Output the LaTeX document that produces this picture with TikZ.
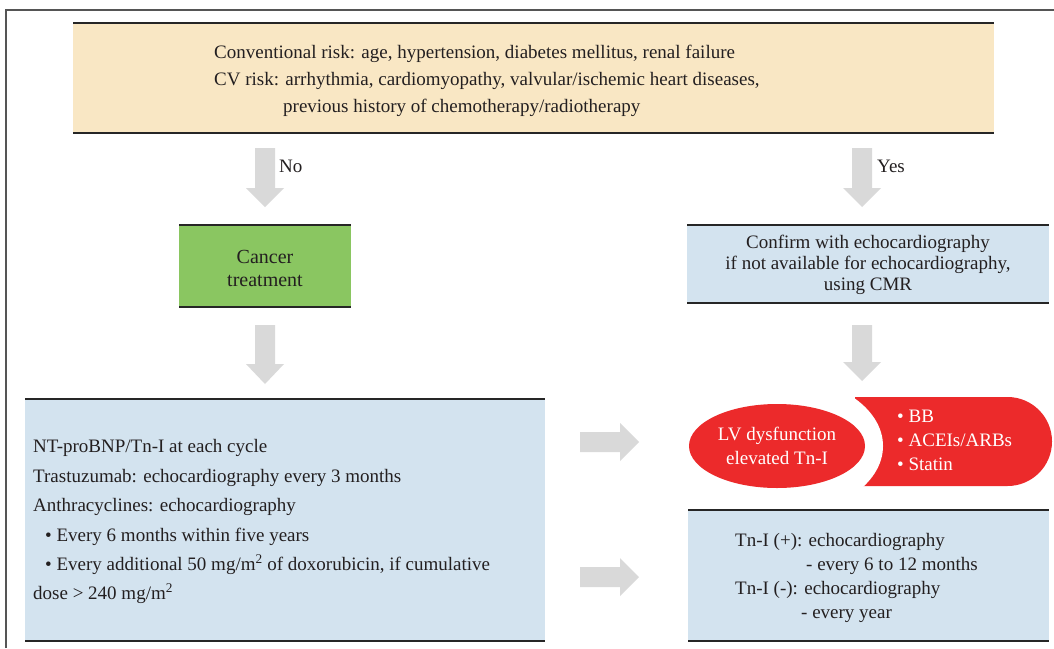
\documentclass[tikz,border=0pt]{standalone}
\usepackage{fontspec}
\setmainfont{Liberation Serif}
\usetikzlibrary{positioning,shapes.geometric}
\definecolor{beige}{HTML}{F9E7C4}
\definecolor{lblue}{HTML}{D3E3EF}
\definecolor{lgreen}{HTML}{8AC661}
\definecolor{myred}{HTML}{EC2A2B}
\definecolor{agray}{HTML}{D9D9D9}
\definecolor{txt}{HTML}{231F20}
\definecolor{frame}{HTML}{555555}
\newcommand\blockdown[4]{% x, ytop, yhead, ytip
  \fill[agray] (#1-10,#2) -- (#1+10,#2) -- (#1+10,#3) -- (#1+19,#3) -- (#1,#4) -- (#1-19,#3) -- (#1-10,#3) -- cycle;}
\newcommand\blockright[4]{% y, xleft, xhead, xtip
  \fill[agray] (#2,#1-10) -- (#2,#1+10) -- (#3,#1+10) -- (#3,#1+19) -- (#4,#1) -- (#3,#1-19) -- (#3,#1-10) -- cycle;}
\tikzset{
  box/.style={draw=none, inner sep=0pt, outer sep=0pt},
  rule/.style={line width=2.6pt, black!85},
  tx/.style={text=txt, font=\fontsize{19}{22}\selectfont, inner sep=0pt, anchor=base west},
  txc/.style={text=txt, font=\fontsize{19}{22}\selectfont, inner sep=0pt, anchor=base},
  wtx/.style={text=white, font=\fontsize{19}{24}\selectfont, inner sep=0pt},
}
\begin{document}
\begin{tikzpicture}[x=1pt,y=-1pt]
\useasboundingbox (0,0) rectangle (1054,648);
\fill[white] (0,0) rectangle (1054,648);
% frame
\draw[frame, line width=1.3pt] (6,648) -- (6,10) -- (1054,10);

% top box
\node[box, fill=beige, minimum width=921pt, minimum height=110pt] (risk) at (533.5,78) {};
\draw[rule] (risk.north west) -- (risk.north east);
\draw[rule] (risk.south west) -- (risk.south east);
\node[tx] (r1) at (214,58) {Conventional risk: age, hypertension, diabetes mellitus, renal failure};
\node[tx] (r2) at (214,85) {CV risk: arrhythmia, cardiomyopathy, valvular/ischemic heart diseases,};
\node[tx] (r3) at (283,112) {previous history of chemotherapy/radiotherapy};

% arrows no / yes
\blockdown{265}{148}{188}{207}
\node[tx] (no) at (279,172) {No};
\blockdown{862}{148}{188}{207}
\node[tx] (yes) at (877,172) {Yes};

% green box
\node[box, fill=lgreen, minimum width=172pt, minimum height=82pt] (cancer) at (265,266) {};
\draw[rule] (cancer.north west) -- (cancer.north east);
\draw[rule] (cancer.south west) -- (cancer.south east);
\node[txc, font=\fontsize{20}{22}\selectfont] at (265,263) {Cancer};
\node[txc, font=\fontsize{20}{22}\selectfont] at (265,286) {treatment};

% confirm box
\node[box, fill=lblue, minimum width=362pt, minimum height=78pt] (confirm) at (868,264) {};
\draw[rule] (confirm.north west) -- (confirm.north east);
\draw[rule] (confirm.south west) -- (confirm.south east);
\node[txc] at (868,248) {Confirm with echocardiography};
\node[txc] at (868,269) {if not available for echocardiography,};
\node[txc] at (868,290) {using CMR};

% second arrows
\blockdown{265}{325}{364}{384}
\blockdown{862}{325}{362}{381}

% monitoring box
\node[box, fill=lblue, minimum width=520pt, minimum height=242pt] (monitor) at (285,520) {};
\draw[rule] (monitor.north west) -- (monitor.north east);
\draw[rule] (monitor.south west) -- (monitor.south east);
\node[tx] at (33,452) {NT-proBNP/Tn-I at each cycle};
\node[tx] at (33,482) {Trastuzumab: echocardiography every 3 months};
\node[tx] at (33,511) {Anthracyclines: echocardiography};
\node[tx] at (45,541) {\textbullet\ Every 6 months within five years};
\node[tx] at (45,570) {\textbullet\ Every additional 50 mg/m\textsuperscript{2} of doxorubicin, if cumulative};
\node[tx] at (33,599) {dose > 240 mg/m\textsuperscript{2}};

% horizontal arrows
\blockright{442}{580}{620}{639}
\blockright{577}{580}{620}{639}

% red shapes
\path[fill=myred] (855,397) -- (1007.5,397) arc[start angle=90, end angle=-90, radius=44.5pt] -- (855,486) -- cycle;
\begin{scope}
\clip (855,397) rectangle (1054,486);
\fill[white] (777,446) ellipse [x radius=106pt, y radius=70pt];
\end{scope}
\node[ellipse, fill=myred, minimum width=176pt, minimum height=84pt, inner sep=0pt] (lv) at (777,446) {};
\node[wtx, align=center] at (lv.center) {LV dysfunction\\elevated Tn-I};
\node[wtx, anchor=base west] (bb) at (897,422) {\textbullet\ BB};
\node[wtx, anchor=base west] (ace) at (897,446) {\textbullet\ ACEIs/ARBs};
\node[wtx, anchor=base west] (st) at (897,470) {\textbullet\ Statin};

% follow-up box
\node[box, fill=lblue, minimum width=361pt, minimum height=131pt] (follow) at (868.5,575.5) {};
\draw[rule] (follow.north west) -- (follow.north east);
\draw[rule] (follow.south west) -- (follow.south east);
\node[tx] at (735,546) {Tn-I (+): echocardiography};
\node[tx] at (806,570) {- every 6 to 12 months};
\node[tx] at (735,594) {Tn-I (-): echocardiography};
\node[tx] at (801,618) {- every year};
\end{tikzpicture}
\end{document}
